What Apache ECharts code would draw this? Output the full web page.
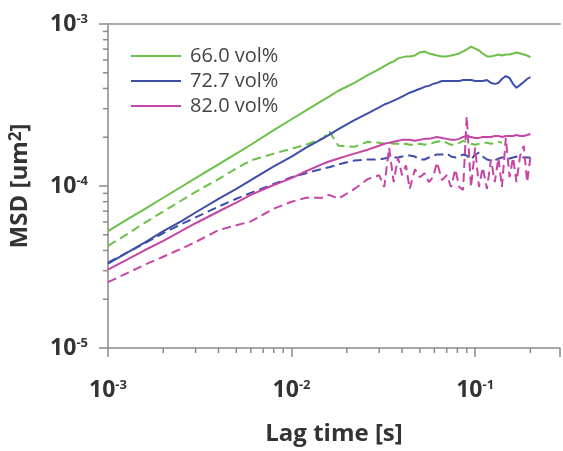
<!DOCTYPE html>
<html>
<head>
<meta charset="utf-8">
<script src="https://cdn.jsdelivr.net/npm/echarts@6/dist/echarts.min.js"></script>
<style>
  html, body { margin: 0; padding: 0; background: #fff; }
  #chart { width: 563px; height: 451px; }
</style>
</head>
<body>
<div id="chart"></div>
<script>
// lag time [s], shared by every curve
const lagTime = [
  0.001, 0.0013, 0.0016, 0.002, 0.0025, 0.003, 0.004, 0.005, 0.006, 0.008,
  0.010, 0.012, 0.015, 0.016, 0.018, 0.022, 0.026,
  0.030, 0.032, 0.034, 0.036, 0.038, 0.040, 0.042, 0.044, 0.047, 0.050,
  0.053, 0.056, 0.059, 0.062, 0.066, 0.070, 0.074, 0.078, 0.082, 0.086,
  0.090, 0.095, 0.100, 0.105, 0.110, 0.116, 0.122, 0.128, 0.134, 0.140,
  0.147, 0.154, 0.161, 0.168, 0.176, 0.184, 0.192, 0.200
]

// MSD in units of 1e-4 um^2 (solid lines)
const msd66 = [
  0.526, 0.631, 0.725, 0.846, 0.986, 1.118, 1.359, 1.585, 1.797, 2.215,
  2.583, 2.929, 3.415, 3.561, 3.872, 4.328, 4.840,
  5.263, 5.488, 5.722, 5.884, 6.136, 6.222, 6.310, 6.310, 6.398, 6.672,
  6.766, 6.579, 6.488, 6.398, 6.310, 6.310, 6.398, 6.488, 6.579, 6.766,
  6.957, 7.254, 7.055, 6.861, 6.579, 6.310, 6.310, 6.398, 6.488, 6.398,
  6.488, 6.488, 6.579, 6.672, 6.579, 6.488, 6.398, 6.222
]
const msd727 = [
  0.332, 0.393, 0.451, 0.526, 0.605, 0.686, 0.834, 0.959, 1.087, 1.322,
  1.520, 1.723, 1.981, 2.066, 2.246, 2.547, 2.808,
  3.054, 3.185, 3.274, 3.367, 3.463, 3.561, 3.662, 3.765, 3.872, 3.981,
  4.094, 4.151, 4.269, 4.328, 4.451, 4.451, 4.451, 4.451, 4.451, 4.514,
  4.514, 4.514, 4.451, 4.451, 4.451, 4.514, 4.328, 4.269, 4.328, 4.577,
  4.773, 4.642, 4.269, 4.037, 4.210, 4.389, 4.577, 4.707
]
const msd82 = [
  0.305, 0.356, 0.404, 0.458, 0.526, 0.589, 0.696, 0.789, 0.882, 1.014,
  1.118, 1.233, 1.378, 1.417, 1.478, 1.585, 1.676,
  1.772, 1.822, 1.848, 1.874, 1.900, 1.927, 1.927, 1.927, 1.900, 1.927,
  1.954, 1.954, 1.981, 2.009, 1.981, 1.954, 1.927, 1.927, 1.954, 2.009,
  2.037, 2.009, 1.981, 1.981, 2.009, 2.009, 2.009, 2.037, 2.037, 2.009,
  2.037, 2.037, 2.037, 2.066, 2.037, 2.037, 2.066, 2.095
]

// MSD in units of 1e-4 um^2 (dashed lines)
const msd66Dash = [
  0.427, 0.512, 0.597, 0.696, 0.811, 0.920, 1.103, 1.285, 1.437, 1.585,
  1.699, 1.797, 1.981, 2.185, 1.772, 1.748, 1.874,
  1.848, 1.822, 1.848, 1.822, 1.822, 1.797, 1.822, 1.797, 1.797, 1.822,
  1.797, 1.822, 1.848, 1.874, 1.900, 1.848, 1.797, 1.797, 1.848, 1.900,
  1.874, 1.822, 1.797, 1.822, 1.848, 1.848, 1.822, 1.848, 1.874, 1.848,
  null, null, null, null, null, null, null, null
]
const msd727Dash = [
  0.337, 0.393, 0.445, 0.512, 0.580, 0.640, 0.746, 0.834, 0.907, 1.028,
  1.134, 1.199, 1.285, 1.304, 1.359, 1.437, 1.457,
  1.457, 1.478, 1.499, 1.499, 1.499, 1.520, 1.541, 1.541, 1.520, 1.457,
  1.457, 1.499, 1.541, 1.563, 1.563, 1.585, 1.520, 1.499, 1.520, 1.563,
  1.541, 1.457, 1.563, 1.607, 1.520, 1.457, 1.437, 1.437, 1.478, 1.499,
  1.499, 1.478, 1.499, 1.520, 1.499, 1.499, 1.499, 1.499
]
const msd82Dash = [
  0.255, 0.293, 0.328, 0.366, 0.409, 0.451, 0.534, 0.572, 0.605, 0.725,
  0.800, 0.846, 0.846, 0.882, 0.834, 0.959, 1.103,
  1.166, 0.986, 1.723, 1.057, 1.499, 1.166, 1.340, 0.959, 1.268, 1.134,
  1.199, 1.057, 1.134, 1.398, 1.087, 1.166, 0.986, 1.268, 0.986, 0.946,
  2.693, 0.986, 1.723, 0.986, 1.304, 0.959, 1.457, 1.057, 1.499, 0.986,
  1.981, 1.134, 1.499, 1.057, 1.541, 1.772, 1.057, 1.499
]

const legendNames = ['66.0 vol%', '72.7 vol%', '82.0 vol%']
const colors = ['#6cbf48', '#3c4ea8', '#c645a6']

// minor tick positions of the log axes
const xMinorTicks = [
  0.002, 0.003, 0.004, 0.005, 0.006, 0.007, 0.008, 0.009,
  0.02, 0.03, 0.04, 0.05, 0.06, 0.07, 0.08, 0.09, 0.2
]
const yMinorTicks = [
  2e-5, 3e-5, 4e-5, 5e-5, 6e-5, 7e-5, 8e-5, 9e-5,
  2e-4, 3e-4, 4e-4, 5e-4, 6e-4, 7e-4, 8e-4, 9e-4
]

const X_MIN = 0.001
const X_MAX = 0.29
const Y_MIN = 1e-5
const Y_MAX = 1e-3
const UNIT = 1e-4

const axisColor = '#8a8a8a'
const fontFamily = '"Open Sans", "DejaVu Sans", sans-serif'

const toPairs = (vals) => lagTime.map((t, i) => [t, vals[i] == null ? null : vals[i] * UNIT])

// label like 10^-3, only on whole decades
const powerLabel = (value) => {
  const e = Math.round(Math.log10(value))
  if (Math.abs(value / Math.pow(10, e) - 1) > 1e-6) return ''
  return '{b|10}{s|' + e + '}'
}

const labelRich = {
  b: { fontSize: 23, fontWeight: 'bold', color: '#333', fontFamily: fontFamily },
  s: { fontSize: 13, fontWeight: 'bold', color: '#333', fontFamily: fontFamily, verticalAlign: 'top', padding: [0, 0, 3, 0] }
}

const makeLine = (name, vals, color, dashed) => ({
  name: name,
  type: 'line',
  data: toPairs(vals),
  showSymbol: false,
  connectNulls: false,
  lineStyle: {
    color: color,
    width: 2,
    type: dashed ? [9, 5] : 'solid'
  },
  itemStyle: { color: color },
  silent: true
})

const tickRenderer = (dir) => (params, api) => {
  const p = api.coord([api.value(0), api.value(1)])
  const shape = dir === 'x'
    ? { x1: p[0], y1: p[1], x2: p[0], y2: p[1] + 5 }
    : { x1: p[0], y1: p[1], x2: p[0] - 5, y2: p[1] }
  return { type: 'line', shape: shape, style: { stroke: axisColor, lineWidth: 1.5 } }
}

const chart = echarts.init(document.getElementById('chart'))

const option = {
  animation: false,
  backgroundColor: '#fff',
  grid: { left: 107, top: 24, right: 0, bottom: 97 },
  legend: {
    data: legendNames,
    orient: 'vertical',
    left: 126,
    top: 41,
    itemWidth: 50,
    itemHeight: 2,
    itemGap: 5,
    icon: 'rect',
    selectedMode: false,
    textStyle: {
      fontSize: 20,
      color: '#444',
      fontFamily: fontFamily,
      padding: [0, 0, 0, 4]
    }
  },
  xAxis: [
    {
      type: 'log',
      min: X_MIN,
      max: X_MAX,
      name: 'Lag time [s]',
      nameLocation: 'middle',
      nameGap: 74,
      nameTextStyle: { fontSize: 24, fontWeight: 'bold', color: '#333', fontFamily: fontFamily },
      axisLine: { lineStyle: { color: axisColor, width: 1.5 } },
      axisTick: { length: 9, lineStyle: { color: axisColor, width: 1.5 } },
      axisLabel: { margin: 31, formatter: powerLabel, rich: labelRich },
      splitLine: { show: false }
    },
    {
      type: 'log',
      position: 'top',
      min: X_MIN,
      max: X_MAX,
      axisLine: { lineStyle: { color: '#aaa', width: 2 } },
      axisTick: { show: false },
      axisLabel: { show: false },
      splitLine: { show: false }
    }
  ],
  yAxis: {
    type: 'log',
    min: Y_MIN,
    max: Y_MAX,
    name: 'MSD [um{s|2}]',
    nameLocation: 'middle',
    nameGap: 76,
    nameTextStyle: {
      fontSize: 24,
      fontWeight: 'bold',
      color: '#333',
      fontFamily: fontFamily,
      rich: {
        s: { fontSize: 17, fontWeight: 'bold', color: '#333', fontFamily: fontFamily, verticalAlign: 'top', padding: [0, 0, 4, 0] }
      }
    },
    axisLine: { show: true, lineStyle: { color: axisColor, width: 1.5 } },
    axisTick: { show: true, length: 9, lineStyle: { color: axisColor, width: 1.5 } },
    axisLabel: { margin: 20, formatter: powerLabel, rich: labelRich },
    splitLine: { show: false }
  },
  series: [
    {
      type: 'custom',
      silent: true,
      renderItem: tickRenderer('x'),
      data: xMinorTicks.map((t) => [t, Y_MIN]),
      clip: false
    },
    {
      type: 'custom',
      silent: true,
      renderItem: tickRenderer('y'),
      data: yMinorTicks.map((v) => [X_MIN, v]),
      clip: false
    },
    makeLine('66.0 vol% (dashed)', msd66Dash, colors[0], true),
    makeLine('72.7 vol% (dashed)', msd727Dash, colors[1], true),
    makeLine('66.0 vol%', msd66, colors[0], false),
    makeLine('72.7 vol%', msd727, colors[1], false),
    makeLine('82.0 vol%', msd82, colors[2], false),
    makeLine('82.0 vol% (dashed)', msd82Dash, colors[2], true)
  ]
}

chart.setOption(option)
</script>
</body>
</html>
